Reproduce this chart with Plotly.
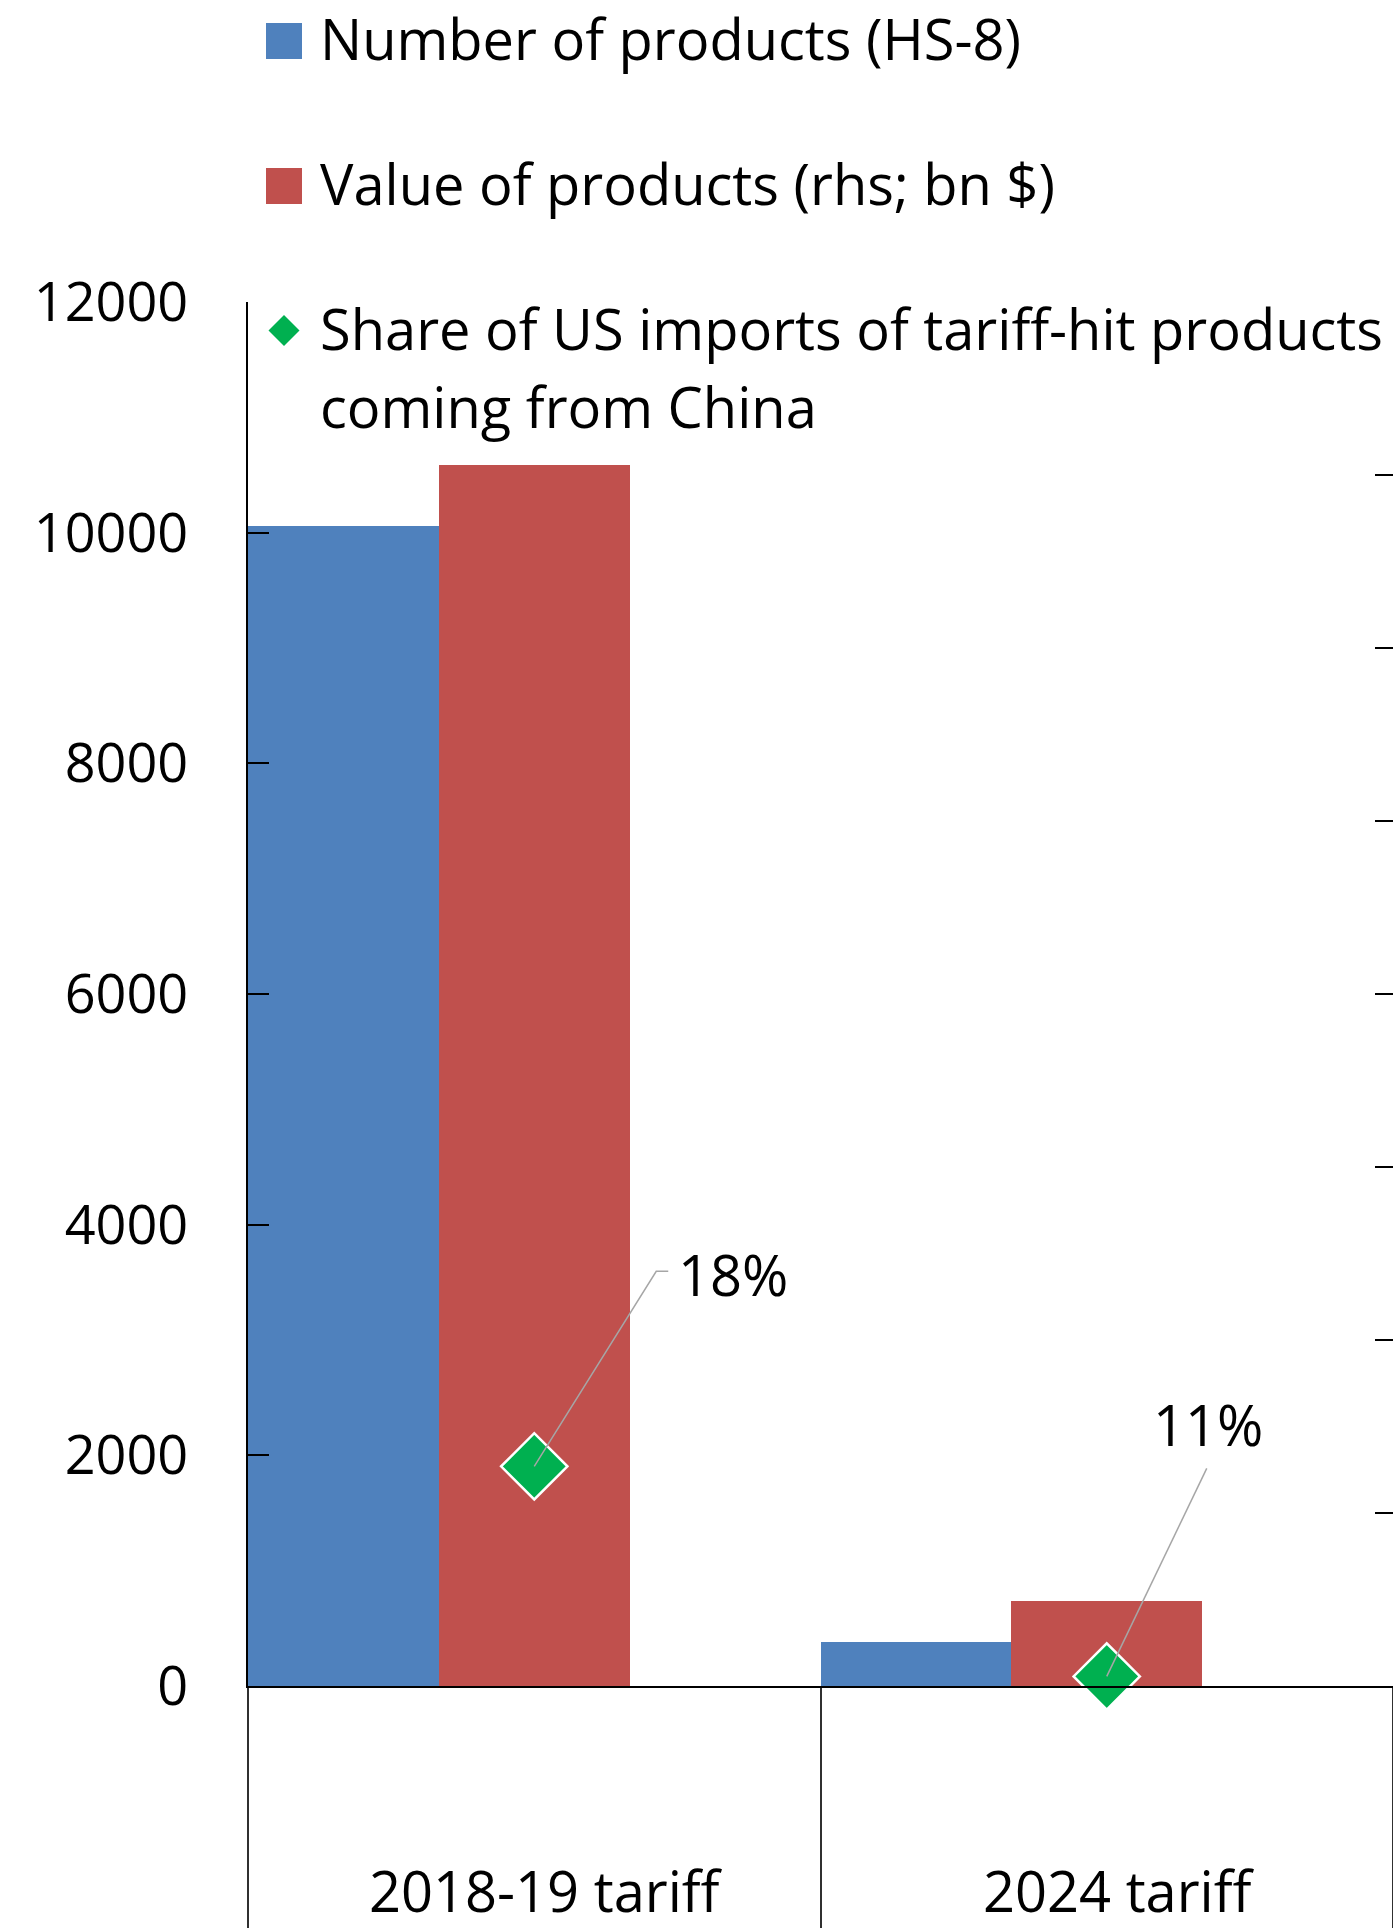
import plotly.graph_objects as go

# ---- data -------------------------------------------------------------
categories = ["2018-19 tariff", "2024 tariff"]
num_products = [10060, 380]      # number of HS-8 product lines (lhs)
value_bn = [353, 24.5]           # value of products, bn $ (rhs)
share_china = [18, 11]           # % of US imports of tariff-hit products from China

legend_labels = [
    "Number of products (HS-8)",
    "Value of products (rhs; bn $)",
    "Share of US imports of tariff-hit products<br>coming from China",
]

# ---- style ------------------------------------------------------------
BLUE = "#4F81BD"
RED = "#C0504D"
GREEN = "#00B050"
LEADER = "#A6A6A6"
FONT = "Open Sans, Noto Sans, sans-serif"
FS_TICK = 54
FS_TEXT = 56

W, H = 1393, 1928
ML, MR, MT, MB = 248, 0, 302, 242.4


def xp(px):
    """page pixel -> paper x"""
    return (px - ML) / (W - ML - MR)


def yp(py):
    """page pixel -> paper y"""
    return (H - MB - py) / (H - MT - MB)


idx = list(range(len(categories)))
fig = go.Figure()

# bars: blue in the left third of each category, red in the middle third
fig.add_trace(go.Bar(
    x=idx, y=num_products, width=1 / 3, offset=-0.5,
    marker=dict(color=BLUE, line=dict(width=0)),
    name=legend_labels[0], showlegend=False,
))
fig.add_trace(go.Bar(
    x=idx, y=value_bn, width=1 / 3, offset=-1 / 6, yaxis="y2",
    marker=dict(color=RED, line=dict(width=0)),
    name=legend_labels[1], showlegend=False,
))
fig.add_trace(go.Scatter(
    x=idx, y=share_china, yaxis="y3", mode="markers", cliponaxis=False,
    marker=dict(symbol="diamond", size=51, color=GREEN,
                line=dict(color="white", width=2.5)),
    name=legend_labels[2].replace("<br>", " "), showlegend=False,
))

shapes = []
annotations = []

# leader lines from each diamond to its value label (pixel offsets)
leader_paths = ["M0,0 L122,195 L134,195", "M0,0 L100,208"]
label_shifts = [(199, 192), (101, 252)]
for i, v in enumerate(share_china):
    shapes.append(dict(
        type="path", xref="x", yref="y3", xsizemode="pixel", ysizemode="pixel",
        xanchor=idx[i], yanchor=v, path=leader_paths[i],
        line=dict(color=LEADER, width=1.5), layer="above",
    ))
    annotations.append(dict(
        x=idx[i], y=v, xref="x", yref="y3", text=f"{v}%", showarrow=False,
        xanchor="center", yanchor="middle",
        xshift=label_shifts[i][0], yshift=label_shifts[i][1],
        font=dict(family=FONT, size=FS_TEXT, color="black"),
    ))

# category labels below the axis
for i, c in enumerate(categories):
    annotations.append(dict(
        x=idx[i], y=yp(1890), xref="x", yref="paper", text=c, showarrow=False,
        xanchor="center", yanchor="middle", xshift=12,
        font=dict(family=FONT, size=FS_TEXT, color="black"),
    ))

# legend: square / diamond keys with text
key_centers_y = [41, 186, 330.5]
key_x = 284
for i, lab in enumerate(legend_labels):
    if i < 2:
        shapes.append(dict(
            type="rect", xref="paper", yref="paper",
            xsizemode="pixel", ysizemode="pixel",
            xanchor=xp(key_x), yanchor=yp(key_centers_y[i]),
            x0=-18, x1=18, y0=-18, y1=18,
            fillcolor=[BLUE, RED][i], line=dict(width=0),
        ))
    else:
        shapes.append(dict(
            type="path", xref="paper", yref="paper",
            xsizemode="pixel", ysizemode="pixel",
            xanchor=xp(key_x), yanchor=yp(key_centers_y[i]),
            path="M0,15.5 L15.5,0 L0,-15.5 L-15.5,0 Z",
            fillcolor=GREEN, line=dict(width=0),
        ))
    for j, line in enumerate(lab.split("<br>")):
        annotations.append(dict(
            x=xp(318), y=yp(key_centers_y[i] - 2.5 + j * 78),
            xref="paper", yref="paper",
            text=line, showarrow=False, xanchor="left", yanchor="middle",
            font=dict(family=FONT, size=FS_TEXT, color="black"),
        ))

fig.update_layout(
    width=W, height=H,
    margin=dict(l=ML, r=MR, t=MT, b=MB, pad=0, autoexpand=False),
    paper_bgcolor="white", plot_bgcolor="white",
    barmode="overlay", bargap=0,
    showlegend=False,
    font=dict(family=FONT, size=FS_TICK, color="black"),
    xaxis=dict(
        range=[-0.5, len(categories) - 0.5],
        tickmode="array", tickvals=[i - 0.5 for i in range(len(categories) + 1)],
        ticks="outside", ticklen=242, tickwidth=1.5, tickcolor="#303030",
        showticklabels=False, showgrid=False, zeroline=False,
        showline=True, linecolor="black", linewidth=2, automargin=False,
    ),
    yaxis=dict(
        range=[0, 12000], tick0=0, dtick=2000, tickformat="d",
        ticks="inside", ticklen=21, tickwidth=2, tickcolor="black",
        showline=True, linecolor="black", linewidth=2,
        showgrid=False, zeroline=False, automargin=False,
        tickfont=dict(family=FONT, size=FS_TICK, color="black"),
        ticklabelstandoff=47,
    ),
    yaxis2=dict(
        overlaying="y", side="right", range=[0, 400], tick0=0, dtick=50,
        ticks="inside", ticklen=18, tickwidth=1.5, tickcolor="black",
        showticklabels=False, showline=False, showgrid=False, zeroline=False,
        automargin=False,
    ),
    yaxis3=dict(overlaying="y", range=[10.68, 56.8], visible=False),
    shapes=shapes,
    annotations=annotations,
)

fig.write_html("out.html")
